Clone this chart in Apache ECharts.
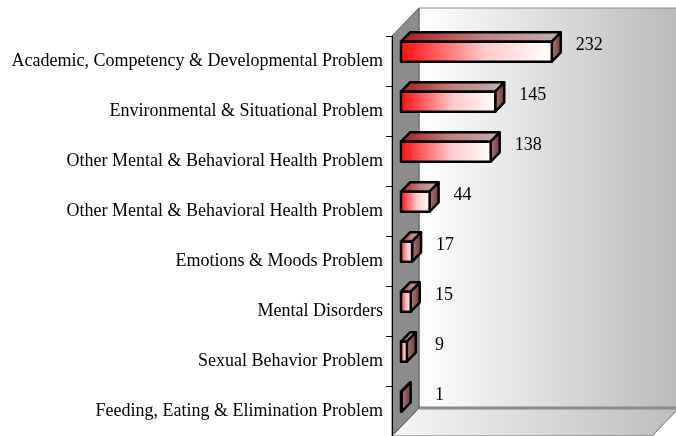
<!DOCTYPE html>
<html>
<head>
<meta charset="utf-8">
<script src="https://cdn.jsdelivr.net/npm/echarts@6/dist/echarts.min.js"></script>
<style>
  html, body { margin: 0; padding: 0; background: #fff; }
  #chart { width: 676px; height: 436px; }
</style>
</head>
<body>
<div id="chart"></div>
<script>
var categories = [
    'Academic, Competency & Developmental Problem',
    'Environmental & Situational Problem',
    'Other Mental & Behavioral Health Problem',
    'Other Mental & Behavioral Health Problem',
    'Emotions & Moods Problem',
    'Mental Disorders',
    'Sexual Behavior Problem',
    'Feeding, Eating & Elimination Problem'
];
var counts = [232, 145, 138, 44, 17, 15, 9, 1];

// depth of the 3D box (px), walls go up-right from the front plane
var DX = 27, DY = 28;
var FONT = '"Liberation Serif", "Times New Roman", serif';

function lg(x2, y2, stops) {
    return new echarts.graphic.LinearGradient(0, 0, x2, y2, stops);
}

function renderWalls(params, api) {
    var cs = params.coordSys;
    var l = cs.x, t = cs.y, r = cs.x + cs.width, b = cs.y + cs.height;
    return {
        type: 'group',
        children: [
            // back wall
            {
                type: 'rect',
                shape: { x: l + DX, y: t - DY, width: cs.width, height: cs.height },
                style: {
                    fill: lg(1, 0, [{ offset: 0, color: '#ffffff' }, { offset: 1, color: '#bababa' }]),
                    stroke: '#8a8a8a', lineWidth: 1
                }
            },
            // floor
            {
                type: 'polygon',
                shape: { points: [[l + DX, b - DY], [r + DX, b - DY], [r, b], [l, b]] },
                style: {
                    fill: lg(1, 0, [{ offset: 0, color: '#f6f6f6' }, { offset: 1, color: '#bdbdbd' }]),
                    stroke: '#6e6e6e', lineWidth: 1
                }
            },
            {
                type: 'line',
                shape: { x1: l + DX, y1: b - DY, x2: r + DX, y2: b - DY },
                style: { stroke: '#8a8a8a', lineWidth: 3 }
            },
            // left wall
            {
                type: 'polygon',
                shape: { points: [[l, t], [l + DX, t - DY], [l + DX, b - DY], [l, b]] },
                style: { fill: '#8c8c8c', stroke: '#5a5a5a', lineWidth: 1 }
            }
        ]
    };
}

function renderBar(params, api) {
    var v = api.value(0), idx = api.value(1);
    var p0 = api.coord([0, idx]);
    var p1 = api.coord([v, idx]);
    var band = api.size([0, 1])[1];
    var h = band * 0.4;
    var dx = DX / 3, dy = DY / 3;
    var xl = p0[0] + dx, xr = p1[0] + dx;
    var yt = p0[1] - h / 2 - dy, yb = p0[1] + h / 2 - dy;
    var line = { stroke: '#000', lineWidth: 2.5, lineJoin: 'round' };
    return {
        type: 'group',
        children: [
            {
                type: 'polygon',
                shape: { points: [[xl, yt], [xr, yt], [xr + dx, yt - dy], [xl + dx, yt - dy]] },
                style: Object.assign({
                    fill: lg(1, 0, [{ offset: 0, color: '#a81818' }, { offset: 0.5, color: '#c08080' }, { offset: 1, color: '#c2b2b2' }])
                }, line)
            },
            {
                type: 'polygon',
                shape: { points: [[xr, yt], [xr + dx, yt - dy], [xr + dx, yb - dy], [xr, yb]] },
                style: Object.assign({
                    fill: lg(1, 0, [{ offset: 0, color: '#b88080' }, { offset: 1, color: '#6a3434' }])
                }, line)
            },
            {
                type: 'rect',
                shape: { x: xl, y: yt, width: xr - xl, height: yb - yt },
                style: Object.assign({
                    fill: lg(1, 0, [{ offset: 0, color: '#ff0a0a' }, { offset: 0.55, color: '#ffc8c8' }, { offset: 1, color: '#ffffff' }])
                }, line)
            },
            {
                type: 'text',
                x: Math.max(xr + 24, xl + 34),
                y: p0[1] - dy - 6,
                style: {
                    text: String(v), fill: '#000', font: '18px ' + FONT,
                    verticalAlign: 'middle', align: 'left'
                }
            }
        ]
    };
}

var chart = echarts.init(document.getElementById('chart'), null, { renderer: 'canvas' });
chart.setOption({
    animation: false,
    backgroundColor: '#ffffff',
    grid: { left: 392, top: 36, width: 260, height: 404 },
    xAxis: {
        type: 'value', min: 0, max: 400, show: false
    },
    yAxis: {
        type: 'category',
        inverse: true,
        data: categories,
        axisLine: { show: true, lineStyle: { color: '#000', width: 1 } },
        axisTick: { show: true, length: 6, lineStyle: { color: '#000' } },
        axisLabel: { margin: 9, color: '#000', fontFamily: FONT, fontSize: 18 },
        z: 5
    },
    series: [
        {
            type: 'custom',
            z: 1,
            renderItem: renderWalls,
            data: [[0, 0]],
            encode: { x: 0, y: 1 },
            silent: true
        },
        {
            type: 'custom',
            z: 2,
            renderItem: renderBar,
            data: counts.map(function (c, i) { return [c, i]; }),
            encode: { x: 0, y: 1 }
        }
    ]
});
</script>
</body>
</html>
